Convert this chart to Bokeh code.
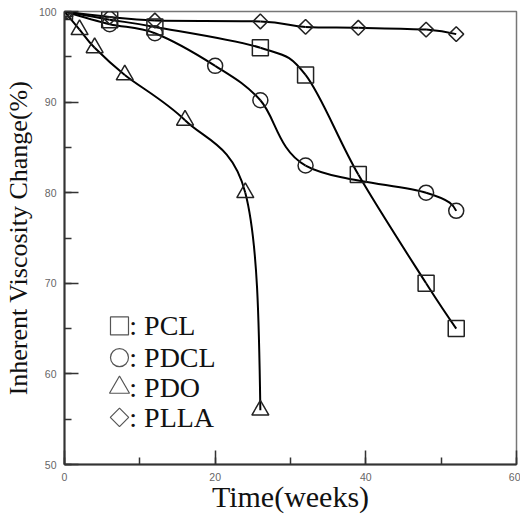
import numpy as np
from bokeh.plotting import figure
from bokeh.models import Range1d, SingleIntervalTicker, Label, ColumnDataSource
from bokeh.embed import file_html
from bokeh.resources import INLINE

# ---- data ----
weeks_pcl = [0, 6, 12, 26, 32, 39, 48, 52]
pcl = [100.0, 99.1, 98.3, 96.0, 93.0, 82.0, 70.0, 65.0]
weeks_pdcl = [0, 6, 12, 20, 26, 32, 48, 52]
pdcl = [100.0, 98.6, 97.6, 94.0, 90.2, 83.0, 80.0, 78.0]
weeks_pdo = [0, 2, 4, 8, 16, 24, 26]
pdo = [100.0, 98.0, 96.0, 93.0, 88.0, 80.0, 56.0]
weeks_plla = [0, 6, 12, 26, 32, 39, 48, 52]
plla = [100.0, 99.4, 99.0, 98.9, 98.3, 98.2, 98.0, 97.5]
series_names = ["PCL", "PDCL", "PDO", "PLLA"]
x_label = "Time(weeks)"
y_label = "Inherent Viscosity Change(%)"

SERIF = "Liberation Serif"
SANS = "Liberation Sans"
YSCALE = 1.2  # aspect of the frame (px per unit y / px per unit x)


def smooth(xs, ys):
    """Catmull-Rom spline through the data points, as cubic Bezier segments."""
    x = np.asarray(xs, float)
    y = np.asarray(ys, float) * YSCALE
    n = len(x)
    tx = np.zeros(n)
    ty = np.zeros(n)
    tx[1:-1] = (x[2:] - x[:-2]) / 2
    ty[1:-1] = (y[2:] - y[:-2]) / 2
    tx[0] = (3 * (x[1] - x[0]) - tx[1]) / 2
    ty[0] = (3 * (y[1] - y[0]) - ty[1]) / 2
    tx[-1] = (3 * (x[-1] - x[-2]) - tx[-2]) / 2
    ty[-1] = (3 * (y[-1] - y[-2]) - ty[-2]) / 2
    return dict(
        x0=x[:-1], y0=y[:-1] / YSCALE, x1=x[1:], y1=y[1:] / YSCALE,
        cx0=x[:-1] + tx[:-1] / 3, cy0=(y[:-1] + ty[:-1] / 3) / YSCALE,
        cx1=x[1:] - tx[1:] / 3, cy1=(y[1:] - ty[1:] / 3) / YSCALE,
    )


p = figure(width=520, height=515, output_backend="svg", toolbar_location=None,
           x_range=Range1d(0, 60), y_range=Range1d(50, 100),
           min_border_left=62, min_border_right=4, min_border_top=11,
           min_border_bottom=50)
p.xgrid.visible = False
p.ygrid.visible = False
p.outline_line_color = "#777777"
p.outline_line_width = 1.5
p.background_fill_color = "white"
p.border_fill_color = "white"

p.xaxis.ticker = SingleIntervalTicker(interval=20, num_minor_ticks=2)
p.yaxis.ticker = SingleIntervalTicker(interval=10, num_minor_ticks=2)
for ax in (p.xaxis[0], p.yaxis[0]):
    ax.axis_line_color = "#333333"
    ax.axis_line_width = 2
    ax.major_tick_line_color = "#333333"
    ax.minor_tick_line_color = "#333333"
    ax.major_tick_line_width = 1.5
    ax.minor_tick_line_width = 1.5
    ax.major_tick_in = 14
    ax.major_tick_out = 0
    ax.minor_tick_in = 7
    ax.minor_tick_out = 0
    ax.major_label_text_font = SANS
    ax.major_label_text_font_size = "10.5px"
    ax.major_label_text_color = "#666666"
    ax.major_label_standoff = 8
    ax.axis_label_text_font = SERIF
    ax.axis_label_text_font_style = "normal"
    ax.axis_label_text_color = "#111111"

p.xaxis.axis_label = x_label
p.xaxis.axis_label_text_font_size = "30px"
p.xaxis.axis_label_standoff = -4
p.yaxis.axis_label = y_label
p.yaxis.axis_label_text_font_size = "26px"
p.yaxis.axis_label_standoff = 3

series = [
    (weeks_pcl, pcl, "square", 16, 0.0),
    (weeks_pdcl, pdcl, "circle", 15, 0.0),
    (weeks_pdo, pdo, "triangle", 17, 0.0),
    (weeks_plla, plla, "square", 10.5, np.pi / 4),
]

for xs, ys, marker, size, ang in series:
    p.bezier(x0="x0", y0="y0", x1="x1", y1="y1", cx0="cx0", cy0="cy0",
             cx1="cx1", cy1="cy1", source=ColumnDataSource(smooth(xs, ys)),
             line_color="black", line_width=2)
for xs, ys, marker, size, ang in series:
    p.scatter(xs, ys, marker=marker, size=size, angle=ang, fill_color=None,
              line_color="#222222", line_width=1.5)

# ---- legend (hand drawn like the reference) ----
leg_x_marker = 7.3
leg_x_text = 8.6
leg_rows = [65.3, 61.8, 58.5, 55.2]
leg_sizes = [18, 18, 20, 13]
for (xs, ys, marker, size, ang), name, ly, ls in zip(series, series_names, leg_rows, leg_sizes):
    p.scatter([leg_x_marker], [ly], marker=marker, size=ls, angle=ang,
              fill_color=None, line_color="#555555", line_width=1.2)
    p.add_layout(Label(x=leg_x_text, y=ly, text=": " + name, text_font=SERIF,
                       text_font_size="28px", text_color="#111111",
                       text_baseline="middle", text_align="left"))

open("out.html", "w").write(file_html(p, INLINE))
